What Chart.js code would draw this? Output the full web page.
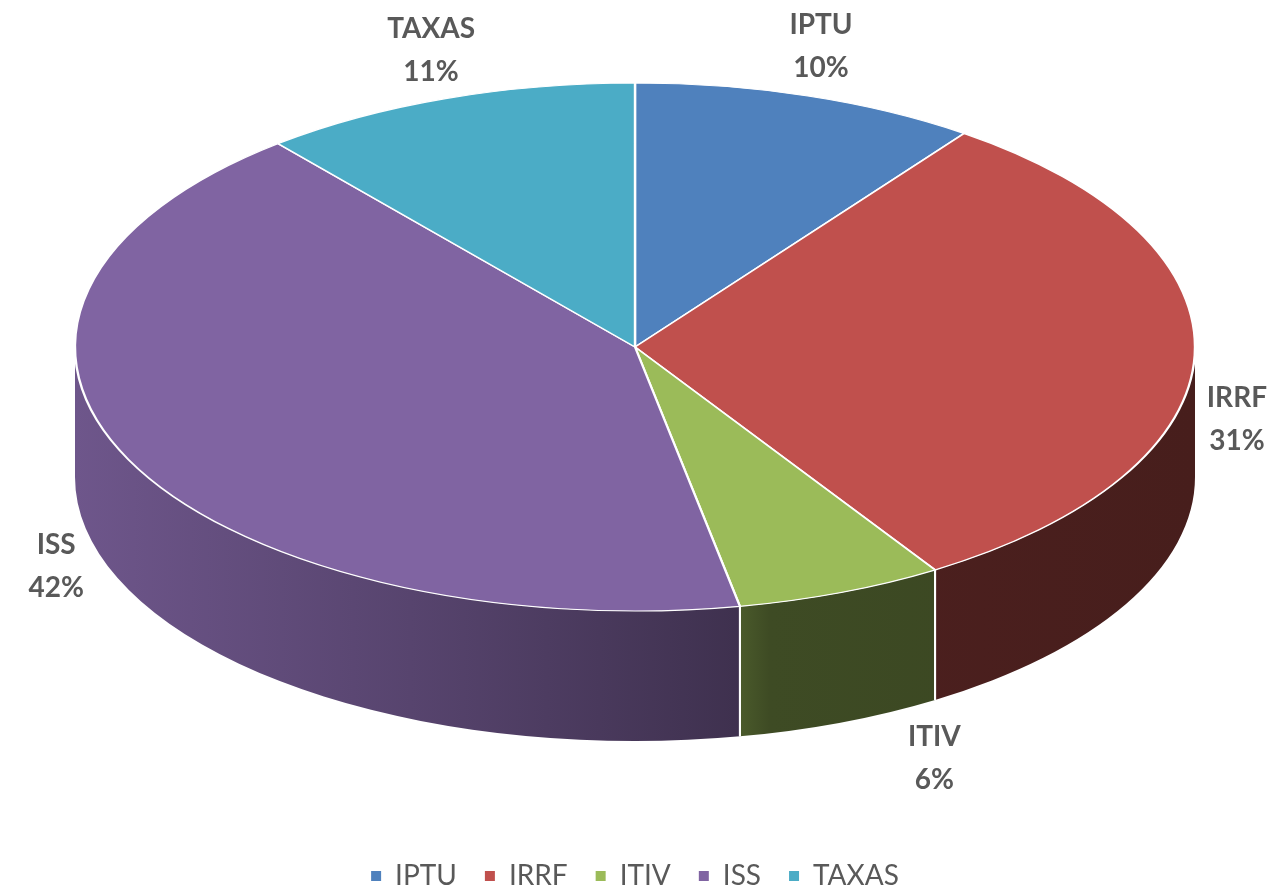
<!DOCTYPE html>
<html>
<head>
<meta charset="utf-8">
<script src="https://cdn.jsdelivr.net/npm/chart.js@4.4.0/dist/chart.umd.min.js"></script>
<style>
    html, body { margin: 0; background: #fff; }
    #wrap { width: 1278px; height: 888px; }
</style>
</head>
<body>
<div id="wrap"><canvas id="pieChart"></canvas></div>
<script>
// Data
const categories = ['IPTU', 'IRRF', 'ITIV', 'ISS', 'TAXAS'];
const shares = [10, 31, 6, 42, 11];
const sliceColors = ['#4f81bd', '#c0504d', '#9bbb59', '#8064a2', '#4bacc6'];

// 3D look
const TILT = 264 / 560;   // vertical squash of the top face
const DEPTH = 130;        // height of the side wall
const TEXT_COLOR = '#595959';

function hexToRgb(hex) {
    const n = parseInt(hex.slice(1), 16);
    return [(n >> 16) & 255, (n >> 8) & 255, n & 255];
}

function shade(hex, f) {
    const [r, g, b] = hexToRgb(hex);
    return `rgb(${Math.round(r * f)}, ${Math.round(g * f)}, ${Math.round(b * f)})`;
}

// ellipse of the top face, derived from the chart area and the arc geometry
function getEllipse(chart) {
    const arc = chart.getDatasetMeta(0).data[0];
    const area = chart.chartArea;
    const rx = area.width / 2;
    const ry = rx * TILT;
    return {
        cx: arc.x, cy: arc.y, r: arc.outerRadius,
        ex: (area.left + area.right) / 2, ey: area.top + ry,
        rx, ry
    };
}

const pie3d = {
    id: 'pie3d',
    beforeDatasetsDraw(chart) {
        const ctx = chart.ctx;
        const meta = chart.getDatasetMeta(0);
        const g = getEllipse(chart);

        // side walls (front half only)
        const edges = [];
        meta.data.forEach((arc, i) => {
            for (let k = -1; k <= 1; k++) {
                const lo = Math.max(arc.startAngle, 2 * Math.PI * k);
                const hi = Math.min(arc.endAngle, 2 * Math.PI * k + Math.PI);
                if (hi <= lo) continue;
                const grad = ctx.createLinearGradient(g.ex - g.rx, 0, g.ex + g.rx, 0);
                grad.addColorStop(0, shade(sliceColors[i], 0.86));
                grad.addColorStop(0.3, shade(sliceColors[i], 0.68));
                grad.addColorStop(0.59, shade(sliceColors[i], 0.49));
                grad.addColorStop(0.62, shade(sliceColors[i], 0.40));
                grad.addColorStop(1, shade(sliceColors[i], 0.37));
                ctx.beginPath();
                ctx.ellipse(g.ex, g.ey, g.rx, g.ry, 0, lo, hi);
                ctx.lineTo(g.ex + g.rx * Math.cos(hi), g.ey + g.ry * Math.sin(hi) + DEPTH);
                ctx.ellipse(g.ex, g.ey + DEPTH, g.rx, g.ry, 0, hi, lo, true);
                ctx.closePath();
                ctx.fillStyle = grad;
                ctx.fill();
                if (lo > 2 * Math.PI * k + 0.001) edges.push(lo);
                if (hi < 2 * Math.PI * k + Math.PI - 0.001) edges.push(hi);
            }
        });

        // white seams between slices on the wall
        ctx.save();
        ctx.strokeStyle = '#fff';
        ctx.lineWidth = 2;
        edges.forEach(a => {
            const x = g.ex + g.rx * Math.cos(a);
            const y = g.ey + g.ry * Math.sin(a);
            ctx.beginPath();
            ctx.moveTo(x, y);
            ctx.lineTo(x, y + DEPTH);
            ctx.stroke();
        });
        ctx.restore();

        // squash the circular pie into the top ellipse
        ctx.save();
        ctx.translate(g.ex, g.ey);
        ctx.scale(g.rx / g.r, g.ry / g.r);
        ctx.translate(-g.cx, -g.cy);
    },
    afterDatasetsDraw(chart) {
        const ctx = chart.ctx;
        ctx.restore();

        const meta = chart.getDatasetMeta(0);
        const g = getEllipse(chart);
        const total = shares.reduce((s, v) => s + v, 0);

        ctx.save();
        ctx.fillStyle = TEXT_COLOR;
        ctx.font = 'bold 28px Lato, "Open Sans", sans-serif';
        ctx.textAlign = 'center';
        ctx.textBaseline = 'middle';
        meta.data.forEach((arc, i) => {
            let mid = (arc.startAngle + arc.endAngle) / 2;
            // front slices look wider in perspective: push their labels outwards
            if (Math.sin(mid) > 0) mid += 12 * Math.PI / 180 * Math.sin(2 * (mid - Math.PI / 2));
            const c = Math.cos(mid), s = Math.sin(mid);
            const x = g.ex + (g.rx + 42) * c;
            let y;
            if (s > -0.1) {
                y = g.ey + g.ry * s + DEPTH * Math.min(1, 0.47 + 2 * s) + 60 * s;
            } else {
                y = g.ey + (g.ry + 52) * s;
            }
            const pct = Math.round(shares[i] / total * 100) + '%';
            ctx.fillText(categories[i], x, y - 21);
            ctx.fillText(pct, x, y + 22);
        });
        ctx.restore();
    }
};

const baseLabels = Chart.DoughnutController.overrides.plugins.legend.labels.generateLabels;

new Chart(document.getElementById('pieChart'), {
    type: 'pie',
    data: {
        labels: categories,
        datasets: [{
            data: shares,
            backgroundColor: sliceColors,
            borderColor: '#ffffff',
            borderWidth: 1.6,
            clip: false
        }]
    },
    options: {
        responsive: true,
        maintainAspectRatio: false,
        animation: false,
        events: [],
        layout: { padding: { left: 75, right: 83, top: 83, bottom: -12 } },
        plugins: {
            tooltip: { enabled: false },
            legend: {
                position: 'bottom',
                labels: {
                    boxWidth: 10,
                    boxHeight: 10,
                    padding: 28,
                    color: TEXT_COLOR,
                    font: { size: 28, family: 'Lato, "Open Sans", sans-serif' },
                    generateLabels: chart => baseLabels(chart).map(l => ({ ...l, lineWidth: 0 }))
                }
            }
        }
    },
    plugins: [pie3d]
});
</script>
</body>
</html>
